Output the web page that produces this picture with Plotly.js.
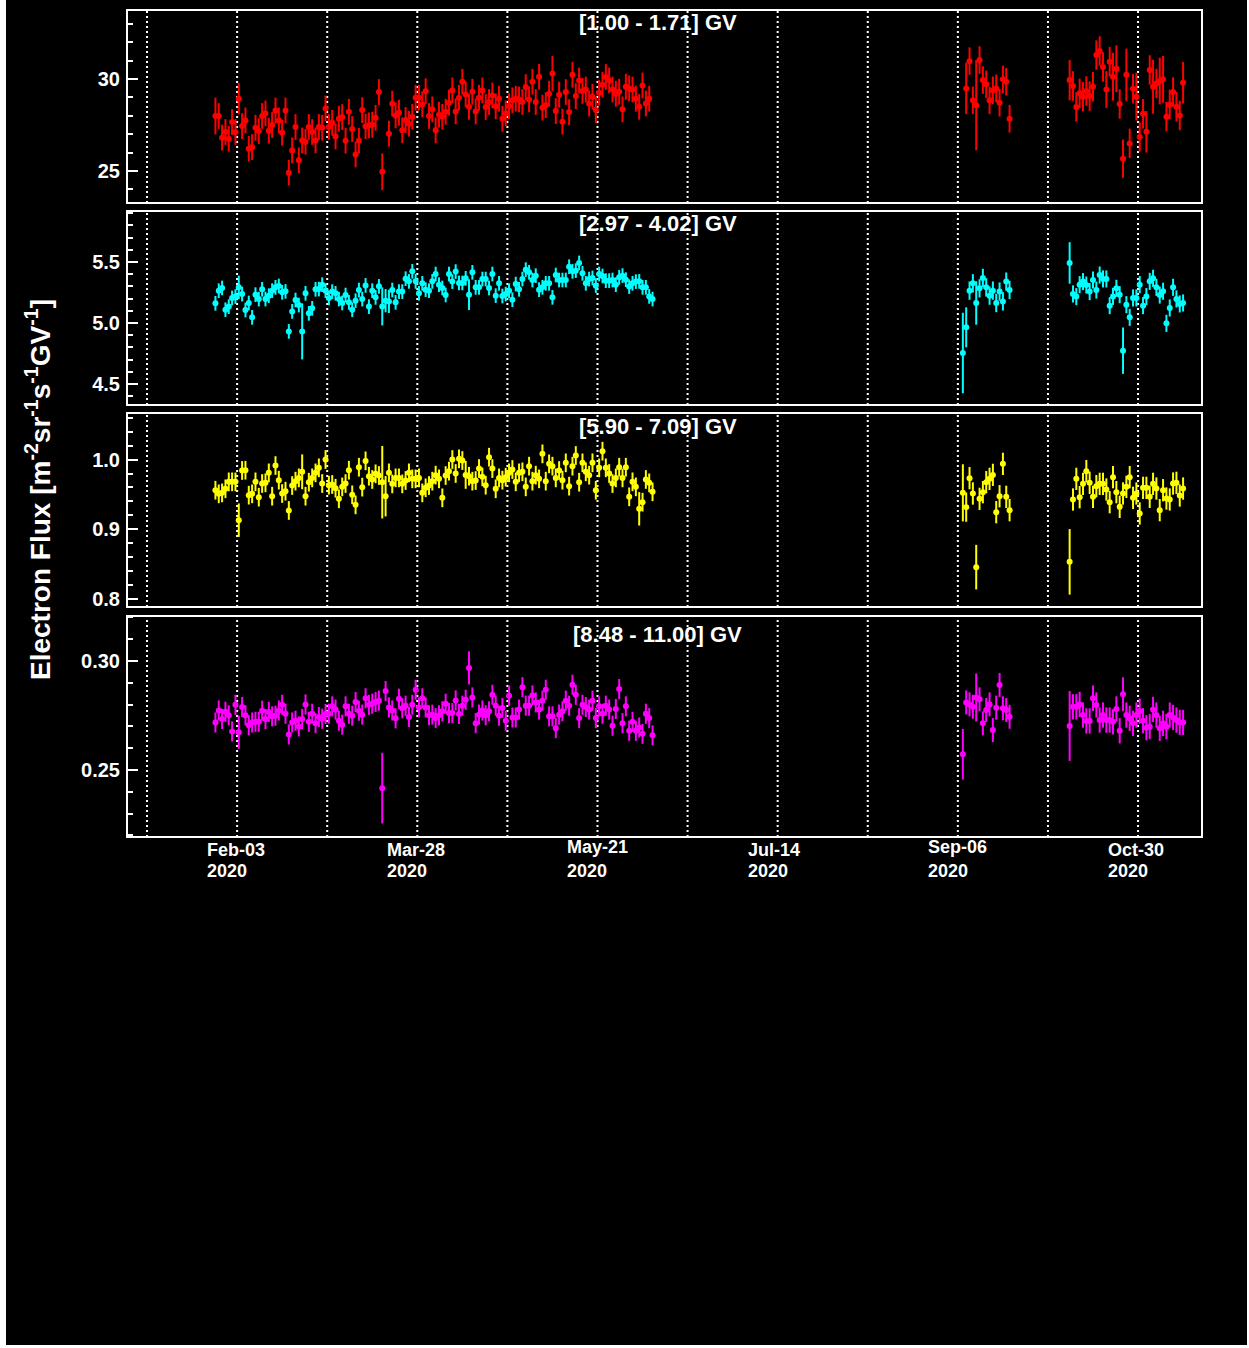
<!DOCTYPE html>
<html>
<head>
<meta charset="utf-8">
<script src="https://cdn.plot.ly/plotly-3.0.1.min.js"></script>
<style>
  html, body { margin: 0; padding: 0; background: #ffffff; }
  #chart { position: absolute; left: 6px; top: 0; width: 1241px; height: 1345px; }
</style>
</head>
<body>
<div id="chart"></div>
<script>
// Daily electron flux in four rigidity bins, 2020.

const binLabels = ['[1.00 - 1.71] GV', '[2.97 - 4.02] GV', '[5.90 - 7.09] GV', '[8.48 - 11.00] GV'];
const binColors = ['#ff0000', '#00ffff', '#ffff00', '#ff00ff'];

// 27-day solar rotation boundaries (dotted lines)
const rotationDays = ['2020-01-07', '2020-02-03', '2020-03-01', '2020-03-28', '2020-04-24', '2020-05-21',
                      '2020-06-17', '2020-07-14', '2020-08-10', '2020-09-06', '2020-10-03', '2020-10-30'];
const dateTicks = ['2020-02-03', '2020-03-28', '2020-05-21', '2020-07-14', '2020-09-06', '2020-10-30'];
const dateTickText = ['Feb-03', 'Mar-28', 'May-21', 'Jul-14', 'Sep-06', 'Oct-30'];

// first day of each continuous run of daily points
const startsLow = ['2020-01-27', '2020-09-08', '2020-10-09'];
const startsHigh = ['2020-01-27', '2020-09-07', '2020-10-09'];

// ---- [1.00 - 1.71] GV ----
const fluxBin1A = [
  27.99, 27.99, 26.81, 27.12, 26.75, 27.66, 27.12, 28.93, 27.44, 27.75,
  26.21, 26.30, 27.35, 27.17, 27.99, 28.13, 27.19, 27.50, 28.29, 27.75,
  27.08, 28.29, 24.91, 26.12, 27.39, 25.58, 26.66, 26.59, 27.39, 27.12,
  26.66, 27.39, 27.35, 28.40, 27.39, 27.62, 26.88, 27.84, 27.93, 26.65,
  28.22, 27.28, 25.90, 26.65, 28.31, 27.42, 27.48, 27.51, 27.89, 29.29,
  24.96, null, 27.03, 28.66, 28.02, 28.17, 27.21, 27.77, 27.57, 27.95,
  28.98, 28.98, 28.62, 29.34, 27.99,
  28.35, 27.21, 28.06, 27.95, 28.22, 28.71, 29.38, 28.24, 28.98, 29.85,
  29.16, 28.49, 29.31, 28.24, 28.98, 29.38, 28.48, 28.75, 29.11, 28.51,
  28.93, 27.84, 28.13, 28.53, 28.84, 28.93, 28.89, 28.75, 29.56, 28.89,
  29.85, 28.75, 30.12, 28.44, 28.58, 29.20, 30.30, 28.26, 29.15, 27.68,
  29.29, 28.20, 30.23, 29.07, 29.92, 29.35, 29.43, 28.66, 29.04, 28.31,
  29.25, 29.69, 30.11, 29.92, 29.43, 29.20, 29.31, 28.35, 29.58, 29.49,
  29.43, 28.93, 28.49, 29.65, 28.67, 28.93
];
const fluxBin1B = [29.49, 30.97, 28.84, 28.58, 31.03, 29.94, 29.71, 28.84, 29.38, 29.49,
                   28.71, 29.98, 29.85, 27.84];
const fluxBin1C = [
  29.94, 29.62, 28.48, 29.22, 29.04, 29.35, 29.07, 29.58, 31.30, 31.52,
  30.65, 29.43, 30.94, 30.12, 30.56, 28.64, 25.67, 30.23, 26.50, 29.47,
  29.04, 26.85, 28.11, 27.13, 30.49, 29.58, 29.76, 29.89, 29.98, 27.95,
  28.62, 29.29, 28.49, 28.02, 29.80
];
const errBin1 = [0.7, 0.75, 0.8];
const errBin1Wide = {
  '2020-01-27': 1.0, '2020-02-03': 0.85, '2020-03-17': 1.0, '2020-05-07': 0.95,
  '2020-09-08': 1.4, '2020-09-11': 2.45,
  '2020-10-09': 1.1, '2020-10-20': 1.0, '2020-10-22': 1.3, '2020-10-23': 1.27, '2020-10-25': 1.04,
  '2020-10-26': 1.42, '2020-10-29': 1.3, '2020-11-01': 1.13, '2020-11-03': 1.47, '2020-11-05': 1.27,
  '2020-11-06': 1.27, '2020-11-12': 1.13
};

// ---- [2.97 - 4.02] GV ----
const fluxBin2A = [
  5.161, 5.265, 5.287, 5.109, 5.134, 5.205, 5.216, 5.292, 5.237, 5.106,
  5.164, 5.046, 5.232, 5.196, 5.276, 5.196, 5.224, 5.265, 5.292, 5.303,
  5.251, 5.259, 4.931, 5.095, 5.188, 5.147, 4.931, 5.243, 5.079, 5.120,
  5.276, 5.278, 5.314, 5.265, 5.205, 5.257, 5.243, 5.196, 5.164, 5.229,
  5.169, 5.109, 5.183, 5.270, 5.196, 5.308, 5.134, 5.265, 5.210, 5.300,
  5.136, 5.183, 5.177, 5.270, 5.169, 5.257, 5.257, 5.363, 5.341, 5.423,
  5.341, 5.243, 5.325, 5.273, 5.265,
  5.341, 5.401, 5.314, 5.287, 5.229, 5.401, 5.339, 5.421, 5.328, 5.328,
  5.366, 5.232, 5.415, 5.292, 5.292, 5.360, 5.360, 5.287, 5.401, 5.224,
  5.325, 5.221, 5.237, 5.265, 5.191, 5.319, 5.276, 5.360, 5.437, 5.415,
  5.352, 5.388, 5.273, 5.292, 5.325, 5.325, 5.210, 5.393, 5.352, 5.352,
  5.352, 5.461, 5.423, 5.429, 5.492, 5.407, 5.325, 5.360, 5.369, 5.306,
  5.401, 5.385, 5.347, 5.347, 5.352, 5.314, 5.374, 5.388, 5.355, 5.298,
  5.325, 5.339, 5.341, 5.292, 5.292, 5.218, 5.196
];
const fluxBin2B = [4.754, 4.964, 5.265, 5.325, 5.164, 5.284, 5.369, 5.292, 5.224, 5.265,
                   5.164, 5.257, 5.177, 5.339, 5.270];
const fluxBin2C = [
  5.492, 5.238, 5.216, 5.314, 5.339, 5.311, 5.257, 5.352, 5.270, 5.393,
  5.361, 5.361, 5.142, 5.218, 5.284, 5.232, 4.773, 5.150, 5.046, 5.205,
  5.205, 5.314, 5.142, 5.216, 5.341, 5.366, 5.292, 5.229, 5.260, 4.997,
  5.123, 5.292, 5.197, 5.156, 5.164
];
const errBin2 = [0.06, 0.075, 0.07];
const errBin2Wide = {
  '2020-02-03': 0.096, '2020-02-22': 0.23, '2020-03-17': 0.156, '2020-03-18': 0.095,
  '2020-03-19': 0.095, '2020-04-12': 0.126,
  '2020-09-07': 0.33, '2020-09-08': 0.164, '2020-09-11': 0.178,
  '2020-10-09': 0.17, '2020-10-25': 0.19
};

// ---- [5.90 - 7.09] GV ----
const fluxBin3A = [
  0.9561, 0.9509, 0.9523, 0.9581, 0.9681, 0.9681, 0.9681, 0.9131, 0.9844, 0.9848,
  0.9490, 0.9509, 0.9681, 0.9461, 0.9657, 0.9667, 0.9810, 0.9475, 0.9915, 0.9705,
  0.9514, 0.9547, 0.9270, 0.9628, 0.9691, 0.9738, 0.9825, 0.9475, 0.9676, 0.9738,
  0.9810, 0.9882, 0.9657, 1.0001, 0.9633, 0.9643, 0.9590, 0.9437, 0.9609, 0.9657,
  0.9848, 0.9495, 0.9351, 0.9891, 0.9605, 0.9982, 0.9762, 0.9715, 0.9796, 0.9772,
  0.9676, 0.9475, 0.9810, 0.9652, 0.9738, 0.9738, 0.9652, 0.9700, 0.9810, 0.9724,
  0.9724, 0.9738, 0.9523, 0.9595, 0.9628,
  0.9691, 0.9777, 0.9724, 0.9452, 0.9772, 0.9834, 1.0001, 0.9801, 1.0011, 0.9987,
  0.9781, 0.9762, 0.9691, 0.9700, 0.9872, 0.9753, 0.9633, 1.0035, 0.9872, 0.9581,
  0.9738, 0.9705, 0.9748, 0.9810, 0.9858, 0.9681, 0.9810, 0.9825, 0.9609, 0.9906,
  0.9691, 0.9777, 0.9724, 1.0083, 0.9691, 0.9939, 0.9906, 0.9738, 0.9844, 0.9705,
  0.9954, 0.9619, 0.9906, 1.0059, 0.9676, 0.9954, 0.9825, 0.9777, 0.9954, 0.9561,
  0.9882, 1.0121, 0.9882, 0.9801, 0.9657, 0.9738, 0.9891, 0.9738, 0.9891, 0.9466,
  0.9681, 0.9609, 0.9294, 0.9389, 0.9715, 0.9667, 0.9538
];
const fluxBin3B = [0.9523, 0.9318, 0.9734, 0.9514, 0.8457, 0.9437, 0.9533, 0.9676, 0.9724, 0.9781,
                   0.9246, 0.9475, 0.9939, 0.9466, 0.9275];
const fluxBin3C = [
  0.8533, 0.9428, 0.9724, 0.9461, 0.9652, 0.9834, 0.9667, 0.9466, 0.9619, 0.9652,
  0.9652, 0.9571, 0.9389, 0.9748, 0.9533, 0.9322, 0.9514, 0.9609, 0.9748, 0.9452,
  0.9514, 0.9227, 0.9595, 0.9595, 0.9466, 0.9652, 0.9585, 0.9275, 0.9561, 0.9442,
  0.9428, 0.9657, 0.9667, 0.9485, 0.9585
];
const errBin3 = [0.0134, 0.016, 0.016];
const errBin3Wide = {
  '2020-02-03': 0.024, '2020-02-22': 0.025, '2020-03-17': 0.052, '2020-03-18': 0.029,
  '2020-04-11': 0.02, '2020-06-02': 0.024,
  '2020-09-07': 0.041, '2020-09-08': 0.021, '2020-09-11': 0.032,
  '2020-10-09': 0.047
};

// ---- [8.48 - 11.00] GV ----
const fluxBin4A = [
  0.2718, 0.2773, 0.2734, 0.2767, 0.2751, 0.2677, 0.2799, 0.2673, 0.2789, 0.2751,
  0.2705, 0.2718, 0.2721, 0.2721, 0.2772, 0.2734, 0.2766, 0.2746, 0.2749, 0.2773,
  0.2799, 0.2758, 0.2663, 0.2718, 0.2726, 0.2700, 0.2734, 0.2801, 0.2721, 0.2758,
  0.2715, 0.2743, 0.2735, 0.2757, 0.2758, 0.2792, 0.2777, 0.2726, 0.2708, 0.2792,
  0.2758, 0.2749, 0.2812, 0.2772, 0.2754, 0.2829, 0.2799, 0.2804, 0.2812, 0.2818,
  0.2417, 0.2862, 0.2787, 0.2773, 0.2737, 0.2827, 0.2783, 0.2795, 0.2743, 0.2799,
  0.2868, 0.2787, 0.2829, 0.2787, 0.2751,
  0.2754, 0.2738, 0.2751, 0.2769, 0.2804, 0.2761, 0.2761, 0.2819, 0.2757, 0.2795,
  0.2822, 0.2968, 0.2833, 0.2715, 0.2754, 0.2773, 0.2751, 0.2769, 0.2845, 0.2795,
  0.2749, 0.2784, 0.2726, 0.2841, 0.2741, 0.2741, 0.2777, 0.2880, 0.2795, 0.2795,
  0.2842, 0.2810, 0.2777, 0.2818, 0.2868, 0.2746, 0.2746, 0.2692, 0.2754, 0.2769,
  0.2818, 0.2795, 0.2891, 0.2845, 0.2738, 0.2799, 0.2789, 0.2777, 0.2818, 0.2738,
  0.2792, 0.2758, 0.2795, 0.2777, 0.2703, 0.2780, 0.2871, 0.2715, 0.2792, 0.2680,
  0.2721, 0.2680, 0.2695, 0.2666, 0.2758, 0.2738, 0.2659
];
const fluxBin4B = [0.2572, 0.2810, 0.2801, 0.2790, 0.2833, 0.2824, 0.2714, 0.2775, 0.2801, 0.2683,
                   0.2786, 0.2890, 0.2783, 0.2775, 0.2744];
const fluxBin4C = [
  0.2702, 0.2790, 0.2790, 0.2801, 0.2752, 0.2725, 0.2725, 0.2829, 0.2798, 0.2729,
  0.2752, 0.2729, 0.2729, 0.2721, 0.2780, 0.2680, 0.2847, 0.2752, 0.2737, 0.2714,
  0.2752, 0.2770, 0.2726, 0.2694, 0.2699, 0.2778, 0.2752, 0.2691, 0.2714, 0.2699,
  0.2752, 0.2741, 0.2729, 0.2718, 0.2718
];
const errBin4 = [0.0046, 0.0055, 0.0058];
const errBin4Wide = {
  '2020-02-03': 0.0076, '2020-03-17': 0.0162, '2020-04-12': 0.0076,
  '2020-09-07': 0.0116, '2020-09-11': 0.011,
  '2020-10-09': 0.016, '2020-10-25': 0.0078
};

// axis settings per panel (top to bottom)
const panelDomains = [[0.7666, 1.0], [0.5224, 0.7570], [0.2781, 0.5127], [0.0, 0.2672]];
const panelRanges = [[23.26, 33.75], [4.328, 5.918], [0.7885, 1.0669], [0.2193, 0.3206]];
const majorSteps = [5, 0.5, 0.1, 0.05];
const minorSteps = [1, 0.1, 0.02, 0.01];
const tickFormats = ['d', '.1f', '.1f', '.2f'];
const titleY = [0.9843, 0.7424, 0.4958, 0.2443];

const FONT = 'Liberation Sans, Arial, Helvetica, sans-serif';

function dayStamp(start, i) {
  const t = Date.parse(start + 'T12:00:00Z') + i * 86400000;
  return new Date(t).toISOString().slice(0, 16).replace('T', ' ');
}

function buildSeries(starts, segments, defaults, wide) {
  const x = [], y = [], e = [];
  segments.forEach((vals, s) => {
    vals.forEach((v, i) => {
      const d = dayStamp(starts[s], i);
      x.push(d);
      y.push(v);
      const key = d.slice(0, 10);
      e.push(key in wide ? wide[key] : defaults[s]);
    });
  });
  return { x, y, e };
}

const series = [
  buildSeries(startsLow, [fluxBin1A, fluxBin1B, fluxBin1C], errBin1, errBin1Wide),
  buildSeries(startsHigh, [fluxBin2A, fluxBin2B, fluxBin2C], errBin2, errBin2Wide),
  buildSeries(startsHigh, [fluxBin3A, fluxBin3B, fluxBin3C], errBin3, errBin3Wide),
  buildSeries(startsHigh, [fluxBin4A, fluxBin4B, fluxBin4C], errBin4, errBin4Wide)
];

const yNames = ['y', 'y2', 'y3', 'y4'];

const traces = series.map((s, k) => ({
  type: 'scatter',
  mode: 'markers',
  x: s.x,
  y: s.y,
  xaxis: 'x',
  yaxis: yNames[k],
  name: binLabels[k],
  marker: { color: binColors[k], size: 6, line: { width: 0 } },
  error_y: { type: 'data', array: s.e, visible: true, color: binColors[k], thickness: 2, width: 0 },
  showlegend: false,
  hoverinfo: 'x+y'
}));

const layout = {
  width: 1241,
  height: 1345,
  margin: { l: 121, r: 45, t: 10, b: 508 },
  paper_bgcolor: '#000000',
  plot_bgcolor: '#000000',
  font: { family: FONT, color: '#ffffff' },
  showlegend: false,
  xaxis: {
    type: 'date',
    range: ['2020-01-01', '2020-11-18 04:00'],
    anchor: 'y4',
    showticklabels: false,
    ticks: '',
    showgrid: false,
    zeroline: false,
    showline: false
  },
  shapes: [],
  annotations: []
};

yNames.forEach((yn, k) => {
  const key = k === 0 ? 'yaxis' : 'yaxis' + (k + 1);
  layout[key] = {
    domain: panelDomains[k],
    range: panelRanges[k],
    anchor: 'x',
    tickmode: 'linear',
    tick0: 0,
    dtick: majorSteps[k],
    tickformat: tickFormats[k],
    ticks: 'inside',
    ticklen: 11,
    tickwidth: 2,
    tickcolor: '#ffffff',
    ticklabelstandoff: 6,
    tickfont: { family: FONT, size: 20, color: '#ffffff', weight: 'bold' },
    showgrid: false,
    zeroline: false,
    showline: false,
    minor: { ticks: 'inside', ticklen: 6, tickwidth: 2, tickcolor: '#ffffff', tick0: 0, dtick: minorSteps[k], showgrid: false }
  };

  // rotation boundaries
  rotationDays.forEach(d => {
    layout.shapes.push({
      type: 'line', xref: 'x', yref: yn + ' domain',
      x0: d, x1: d, y0: 0, y1: 1,
      line: { color: '#ffffff', width: 2, dash: '2px,3px' },
      layer: 'below'
    });
  });

  // panel frame
  layout.shapes.push({
    type: 'rect', xref: 'paper', yref: 'paper',
    x0: 0, x1: 1, y0: panelDomains[k][0], y1: panelDomains[k][1],
    line: { color: '#ffffff', width: 2 },
    fillcolor: 'rgba(0,0,0,0)',
    layer: 'above'
  });

  layout.annotations.push({
    xref: 'paper', yref: 'paper', x: 0.4935, y: titleY[k],
    xanchor: 'center', yanchor: 'middle',
    text: binLabels[k], showarrow: false,
    font: { family: FONT, size: 22, color: '#ffffff', weight: 'bold' }
  });
});

// date labels under the bottom panel: month-day line, then year line
dateTicks.forEach((d, i) => {
  const lift = (dateTickText[i].startsWith('May') || dateTickText[i].startsWith('Sep')) ? 3 : 0;
  [[dateTickText[i], -0.01572], [d.slice(0, 4), -0.04111]].forEach(([txt, yy], j) => {
    layout.annotations.push({
      xref: 'x', yref: 'paper', x: d, y: yy,
      xanchor: 'left', yanchor: 'middle', xshift: -32, yshift: j === 0 ? lift : 0,
      text: txt, showarrow: false,
      font: { family: FONT, size: 18, color: '#ffffff', weight: 'bold' }
    });
  });
});

// shared y-axis title
layout.annotations.push({
  xref: 'paper', yref: 'paper', x: -0.0828, y: 0.4208,
  xanchor: 'center', yanchor: 'middle', textangle: -90,
  text: 'Electron Flux [m<sup>-2</sup>sr<sup>-1</sup>s<sup>-1</sup>GV<sup>-1</sup>]',
  showarrow: false,
  font: { family: FONT, size: 28, color: '#ffffff', weight: 'bold' }
});

Plotly.newPlot('chart', traces, layout, { displayModeBar: false, staticPlot: true });
</script>
</body>
</html>
